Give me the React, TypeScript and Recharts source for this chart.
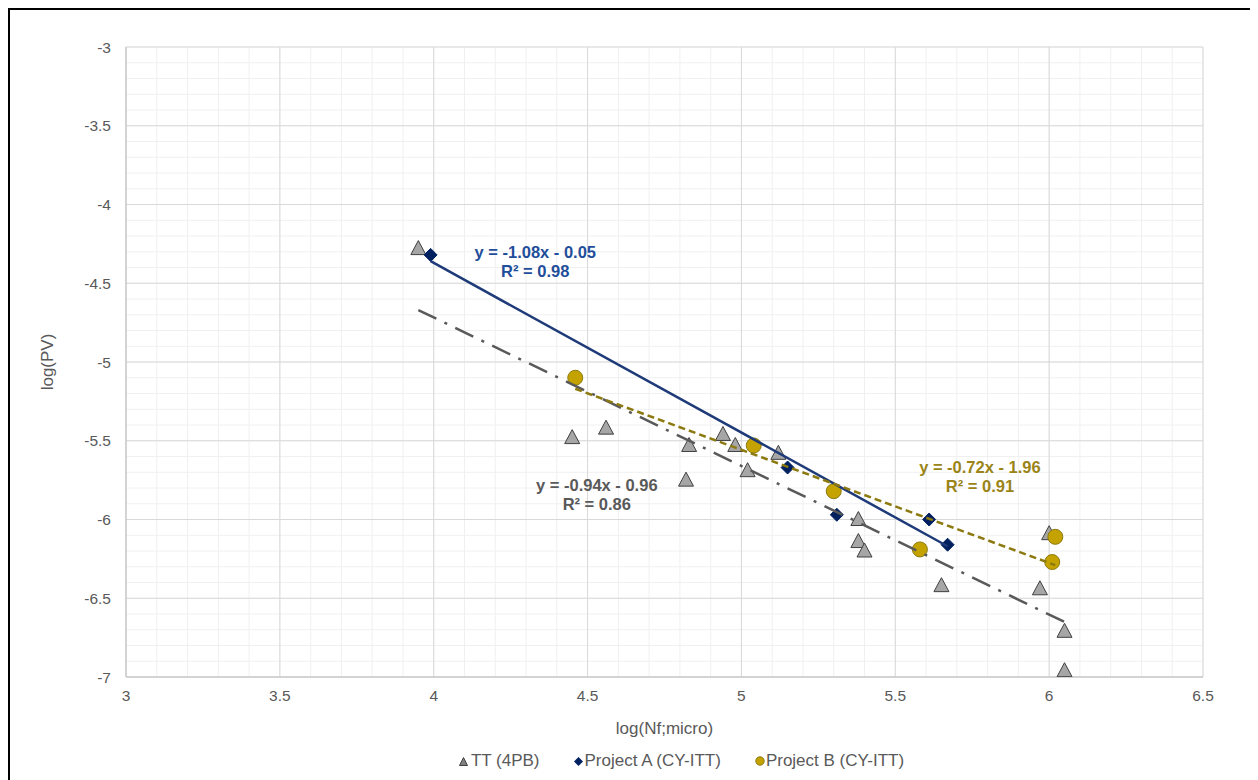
import React from 'react';
import {
  ComposedChart,
  Scatter,
  XAxis,
  YAxis,
  CartesianGrid,
  ReferenceDot,
  Legend,
  Label,
} from 'recharts';

// values
const ttX = [3.95, 4.45, 4.56, 4.82, 4.83, 4.94, 4.98, 5.02, 5.12, 5.38, 5.38, 5.4, 5.65, 5.97, 6.0, 6.05, 6.05];
const ttY = [-4.28, -5.48, -5.42, -5.75, -5.53, -5.46, -5.53, -5.69, -5.58, -6.0, -6.14, -6.2, -6.42, -6.44, -6.09, -6.71, -6.96];

const projAX = [3.99, 5.15, 5.31, 5.61, 5.67];
const projAY = [-4.32, -5.67, -5.97, -6.0, -6.16];

const projBX = [4.46, 5.04, 5.3, 5.58, 6.02, 6.01];
const projBY = [-5.1, -5.53, -5.82, -6.19, -6.11, -6.27];

// trendline end points
const ttTrendX = [3.95, 6.06];
const ttTrendY = [-4.67, -6.66];
const aTrendX = [3.99, 5.67];
const aTrendY = [-4.36, -6.17];
const bTrendX = [4.46, 6.02];
const bTrendY = [-5.17, -6.29];

const xTicks = [3, 3.5, 4, 4.5, 5, 5.5, 6, 6.5];
const yTicks = [-7, -6.5, -6, -5.5, -5, -4.5, -4, -3.5, -3];

const seriesNames = ['TT (4PB)', 'Project A (CY-ITT)', 'Project B (CY-ITT)'];

const zip = (xs: number[], ys: number[]) => xs.map((x, i) => ({ x, y: ys[i] }));

const FONT = '"Liberation Sans", Arial, sans-serif';
const GRAY_TEXT = '#595959';
const NAVY = '#002060';
const BLUE_LINE = '#1F3A78';
const OLIVE = '#C4A300';
const OLIVE_DARK = '#8C7A10';
const TRI_FILL = '#A6A6A6';

const Triangle = ({ cx, cy }: any) => (
  <polygon
    points={`${cx},${cy - 8} ${cx - 7.5},${cy + 6} ${cx + 7.5},${cy + 6}`}
    fill={TRI_FILL}
    stroke="#404040"
    strokeWidth={1}
  />
);

const Diamond = ({ cx, cy }: any) => (
  <polygon
    points={`${cx},${cy - 6.5} ${cx + 6.5},${cy} ${cx},${cy + 6.5} ${cx - 6.5},${cy}`}
    fill={NAVY}
    stroke={NAVY}
    strokeWidth={1}
  />
);

const Dot = ({ cx, cy }: any) => (
  <circle cx={cx} cy={cy} r={7.5} fill={OLIVE} stroke={OLIVE_DARK} strokeWidth={1} />
);

const NoShape = () => <g />;

const eqLabel = (line1: string, line2: string, color: string) => (props: any) => {
  const vb = props.viewBox || {};
  const cx = (vb.x ?? 0) + (vb.width ?? 0) / 2;
  const cy = (vb.y ?? 0) + (vb.height ?? 0) / 2;
  return (
    <text x={cx} y={cy} fill={color} fontFamily={FONT} fontSize={16.5} fontWeight="bold" textAnchor="middle">
      <tspan x={cx} dy="0.35em">{line1}</tspan>
      <tspan x={cx} dy="1.15em">{line2}</tspan>
    </text>
  );
};

// minor grid every 0.1
const minorX = ({ offset }: any) =>
  Array.from({ length: 36 }, (_, i) => offset.left + (i * offset.width) / 35);
const minorY = ({ offset }: any) =>
  Array.from({ length: 41 }, (_, i) => offset.top + (i * offset.height) / 40);

const LegendContent = () => (
  <div
    style={{
      display: 'flex',
      justifyContent: 'center',
      gap: 34,
      fontFamily: FONT,
      fontSize: 17,
      color: GRAY_TEXT,
      paddingLeft: 150,
      paddingTop: 4,
    }}
  >
    <span style={{ display: 'flex', alignItems: 'center', gap: 3 }}>
      <svg width={9} height={9}>
        <polygon points="4.5,0.5 0.5,8.5 8.5,8.5" fill="#808080" stroke="#404040" />
      </svg>
      {seriesNames[0]}
    </span>
    <span style={{ display: 'flex', alignItems: 'center', gap: 2 }}>
      <svg width={9} height={9}>
        <polygon points="4.5,0 9,4.5 4.5,9 0,4.5" fill={NAVY} />
      </svg>
      {seriesNames[1]}
    </span>
    <span style={{ display: 'flex', alignItems: 'center', gap: 1 }}>
      <svg width={10} height={10}>
        <circle cx={5} cy={5} r={4.2} fill={OLIVE} stroke={OLIVE_DARK} />
      </svg>
      {seriesNames[2]}
    </span>
  </div>
);

export default function App() {
  return (
    <div
      style={{
        width: 1242,
        height: 790,
        border: '2px solid #000',
        background: '#fff',
      }}
    >
      <ComposedChart
        width={1242}
        height={770}
        margin={{ top: 37, right: 49, bottom: 5, left: 0 }}
      >
        <CartesianGrid
          stroke="#F0F0F0"
          verticalCoordinatesGenerator={minorX}
          horizontalCoordinatesGenerator={minorY}
        />
        <CartesianGrid stroke="#D9D9D9" />
        <XAxis
          type="number"
          dataKey="x"
          domain={[3, 6.5]}
          ticks={xTicks}
          allowDataOverflow
          height={70}
          tickSize={0}
          tickMargin={13}
          axisLine={{ stroke: '#BFBFBF' }}
          tick={{ fill: GRAY_TEXT, fontSize: 15.5, fontFamily: FONT }}
        >
          <Label
            value="log(Nf;micro)"
            position="insideTop"
            offset={45}
            style={{ fill: GRAY_TEXT, fontSize: 17, fontFamily: FONT }}
          />
        </XAxis>
        <YAxis
          type="number"
          dataKey="y"
          domain={[-7, -3]}
          ticks={yTicks}
          allowDataOverflow
          width={116}
          tickSize={0}
          tickMargin={15}
          axisLine={{ stroke: '#BFBFBF' }}
          tick={{ fill: GRAY_TEXT, fontSize: 15.5, fontFamily: FONT }}
        >
          <Label
            content={(props: any) => {
              const vb = props.viewBox || {};
              const x = 37;
              const y = (vb.y ?? 0) + (vb.height ?? 0) / 2;
              return (
                <text
                  x={x}
                  y={y}
                  transform={`rotate(-90, ${x}, ${y})`}
                  textAnchor="middle"
                  dominantBaseline="central"
                  fill={GRAY_TEXT}
                  fontSize={17}
                  fontFamily={FONT}
                >
                  log(PV)
                </text>
              );
            }}
          />
        </YAxis>
        <Legend verticalAlign="bottom" height={28} content={<LegendContent />} />

        <Scatter name={seriesNames[0]} data={zip(ttX, ttY)} shape={Triangle} isAnimationActive={false} />
        <Scatter name={seriesNames[1]} data={zip(projAX, projAY)} shape={Diamond} isAnimationActive={false} />
        <Scatter name={seriesNames[2]} data={zip(projBX, projBY)} shape={Dot} isAnimationActive={false} />

        <Scatter
          data={zip(ttTrendX, ttTrendY)}
          shape={NoShape}
          line={{ stroke: '#595959', strokeWidth: 2.5, strokeDasharray: '20 9 3 9' }}
          legendType="none"
          isAnimationActive={false}
        />
        <Scatter
          data={zip(aTrendX, aTrendY)}
          shape={NoShape}
          line={{ stroke: BLUE_LINE, strokeWidth: 2.5 }}
          legendType="none"
          isAnimationActive={false}
        />
        <Scatter
          data={zip(bTrendX, bTrendY)}
          shape={NoShape}
          line={{ stroke: OLIVE_DARK, strokeWidth: 2.5, strokeDasharray: '7 4' }}
          legendType="none"
          isAnimationActive={false}
        />

        <ReferenceDot
          x={4.33}
          y={-4.3}
          r={0}
          fill="none"
          stroke="none"
          label={eqLabel('y = -1.08x - 0.05', 'R² = 0.98', '#1F4E9A')}
        />
        <ReferenceDot
          x={4.53}
          y={-5.78}
          r={0}
          fill="none"
          stroke="none"
          label={eqLabel('y = -0.94x - 0.96', 'R² = 0.86', GRAY_TEXT)}
        />
        <ReferenceDot
          x={5.775}
          y={-5.67}
          r={0}
          fill="none"
          stroke="none"
          label={eqLabel('y = -0.72x - 1.96', 'R² = 0.91', '#9A8418')}
        />
      </ComposedChart>
    </div>
  );
}
